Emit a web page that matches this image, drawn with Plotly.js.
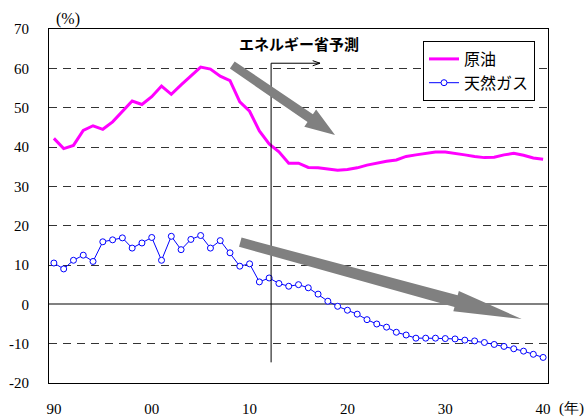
<!DOCTYPE html>
<html>
<head>
<meta charset="utf-8">
<script src="https://cdn.plot.ly/plotly-3.0.1.min.js"></script>
<style>
  html, body { margin: 0; padding: 0; background: #fff; }
  #chart { width: 587px; height: 418px; }
</style>
</head>
<body>
<div id="chart"></div>
<script>
// Years on the category axis (1990-2040)
const years = [
  1990, 1991, 1992, 1993, 1994, 1995, 1996, 1997, 1998, 1999,
  2000, 2001, 2002, 2003, 2004, 2005, 2006, 2007, 2008, 2009,
  2010, 2011, 2012, 2013, 2014, 2015, 2016, 2017, 2018, 2019,
  2020, 2021, 2022, 2023, 2024, 2025, 2026, 2027, 2028, 2029,
  2030, 2031, 2032, 2033, 2034, 2035, 2036, 2037, 2038, 2039, 2040
];

// 原油 (%)
const crudeOil = [
  42.2, 39.6, 40.4, 44.2, 45.4, 44.5, 46.4, 49.1, 51.7, 50.8,
  52.8, 55.5, 53.4, 55.8, 58.0, 60.3, 59.8, 58.0, 56.9, 51.5,
  49.1, 44.1, 40.8, 38.8, 35.9, 35.9, 34.8, 34.7, 34.4, 34.1,
  34.3, 34.7, 35.4, 35.9, 36.4, 36.7, 37.6, 38.0, 38.4, 38.7,
  38.7, 38.4, 38.0, 37.6, 37.3, 37.4, 38.0, 38.4, 37.9, 37.2, 36.9
];

// 天然ガス (%)
const naturalGas = [
  10.5, 9.0, 11.2, 12.5, 10.9, 15.9, 16.4, 16.9, 14.3, 15.6,
  17.0, 11.2, 17.3, 13.9, 16.5, 17.5, 14.3, 16.2, 13.1, 9.7,
  10.3, 5.7, 6.7, 5.3, 4.6, 5.0, 4.2, 2.6, 0.8, -0.5,
  -1.5, -2.5, -3.9, -5.0, -5.8, -7.1, -7.8, -8.6, -8.6, -8.6,
  -8.7, -8.8, -9.1, -9.3, -9.7, -10.2, -10.7, -11.3, -11.9, -12.7, -13.5
];

// Axis ticks
const xTickYears = [1990, 2000, 2010, 2020, 2030, 2040];
const xTickLabels = ['90', '00', '10', '20', '30', '40'];
const yTickVals = [-20, -10, 0, 10, 20, 30, 40, 50, 60, 70];
const yTickLabels = ['-20', '-10', '0', '10', '20', '30', '40', '50', '60', '70'];

// Forecast start marker and trend arrows (data coordinates)
const forecastYear = 2012.2;
const forecastTop = 61.3;
const forecastBottom = -14.75;
const forecastArrowEnd = 2017.2;
const trendOil = { tail: [2008.23, 60.85], tip: [2018.73, 43.05] };
const trendGas = { tail: [2009.05, 15.8], tip: [2037.81, -3.73] };

// Plot geometry
const W = 587, H = 418;
const M = { l: 49, r: 39, t: 29, b: 35 };
const xRange = [1989.5, 2040.5];
const yRange = [-20, 70];
const plotW = W - M.l - M.r, plotH = H - M.t - M.b;
const sx = plotW / (xRange[1] - xRange[0]);
const sy = plotH / (yRange[1] - yRange[0]);

// Block arrow polygon, sized in pixels, expressed in data coordinates
function blockArrow(a, wTail, wBase, headLen, headW) {
  const toPx = p => [(p[0] - xRange[0]) * sx, (yRange[1] - p[1]) * sy];
  const toData = q => [q[0] / sx + xRange[0], yRange[1] - q[1] / sy];
  const t = toPx(a.tail), h = toPx(a.tip);
  const dx = h[0] - t[0], dy = h[1] - t[1];
  const len = Math.hypot(dx, dy);
  const u = [dx / len, dy / len], n = [-u[1], u[0]];
  const base = [h[0] - u[0] * headLen, h[1] - u[1] * headLen];
  const off = (p, k) => [p[0] + n[0] * k, p[1] + n[1] * k];
  const pts = [
    off(t, wTail / 2), off(base, wBase / 2), off(base, headW / 2), h,
    off(base, -headW / 2), off(base, -wBase / 2), off(t, -wTail / 2)
  ].map(toData);
  return 'M' + pts.map(p => p[0].toFixed(3) + ',' + p[1].toFixed(3)).join(' L') + ' Z';
}

const serif = 'Liberation Serif';
const cjk = 'Noto Sans CJK JP';

const traces = [
  {
    x: years, y: crudeOil, name: '原油', type: 'scatter', mode: 'lines',
    line: { color: '#FF00FF', width: 3 }, xaxis: 'x', yaxis: 'y'
  },
  {
    x: years, y: naturalGas, name: '天然ガス', type: 'scatter', mode: 'lines+markers',
    line: { color: '#0000FF', width: 1 },
    marker: { symbol: 'circle', size: 6, color: '#FFFFFF', line: { color: '#0000FF', width: 1 } },
    xaxis: 'x', yaxis: 'y'
  }
];

const layout = {
  width: W, height: H,
  margin: M,
  font: { family: serif },
  paper_bgcolor: '#FFFFFF', plot_bgcolor: '#FFFFFF',
  showlegend: true,
  legend: {
    x: (535 - M.l) / plotW, xanchor: 'right',
    y: (H - M.b - 41) / plotH, yanchor: 'top',
    bgcolor: '#FFFFFF', bordercolor: '#000000', borderwidth: 1,
    font: { family: cjk, size: 16, color: '#000000' },
    itemwidth: 30, tracegroupgap: 0
  },
  xaxis: {
    range: xRange, tickvals: xTickYears, ticktext: xTickLabels,
    ticks: '', showgrid: false, zeroline: false,
    showline: true, mirror: true, linecolor: '#000000', linewidth: 1,
    ticklabelstandoff: 12,
    tickfont: { family: serif, size: 15, color: '#000000' }
  },
  // tick marks along the zero line at decade boundaries
  xaxis2: {
    overlaying: 'x', anchor: 'free', position: (0 - yRange[0]) / (yRange[1] - yRange[0]),
    range: xRange, tickvals: [1999.5, 2009.5, 2019.5, 2029.5, 2039.5],
    ticks: 'inside', ticklen: 5, tickwidth: 1, tickcolor: '#000000',
    showticklabels: false, showgrid: false, zeroline: false, showline: false
  },
  yaxis: {
    range: yRange, tickvals: yTickVals, ticktext: yTickLabels,
    ticks: '', showgrid: true, gridcolor: '#333333', gridwidth: 1, griddash: '8px,6px',
    zeroline: true, zerolinecolor: '#808080', zerolinewidth: 2,
    showline: true, mirror: true, linecolor: '#000000', linewidth: 1,
    ticklabelstandoff: 16,
    tickfont: { family: serif, size: 15, color: '#000000' }
  },
  shapes: [
    { type: 'line', xref: 'x', yref: 'y', x0: forecastYear, x1: forecastYear,
      y0: forecastBottom, y1: forecastTop, line: { color: '#000000', width: 1 } },
    { type: 'line', xref: 'x', yref: 'y', x0: forecastYear, x1: forecastArrowEnd,
      y0: forecastTop, y1: forecastTop, line: { color: '#000000', width: 1 } },
    { type: 'path', xref: 'x', yref: 'y',
      path: 'M' + (forecastArrowEnd - 0.75) + ',' + (forecastTop + 0.65) +
            ' L' + forecastArrowEnd + ',' + forecastTop +
            ' L' + (forecastArrowEnd - 0.75) + ',' + (forecastTop - 0.65),
      line: { color: '#000000', width: 1 } },
    { type: 'path', xref: 'x', yref: 'y', path: blockArrow(trendOil, 8.5, 9.5, 30, 21),
      fillcolor: '#808080', line: { width: 0 } },
    { type: 'path', xref: 'x', yref: 'y', path: blockArrow(trendGas, 9.5, 12, 68, 21),
      fillcolor: '#808080', line: { width: 0 } }
  ],
  annotations: [
    { xref: 'paper', yref: 'paper', x: (68 - M.l) / plotW, y: (H - M.b - 19) / plotH,
      text: '(%)', showarrow: false, xanchor: 'center', yanchor: 'middle',
      font: { family: serif, size: 16, color: '#000000' } },
    { xref: 'paper', yref: 'paper', x: (557 - M.l) / plotW, y: (H - M.b - 408) / plotH,
      text: '(年)', showarrow: false, xanchor: 'left', yanchor: 'middle',
      font: { family: serif, size: 15, color: '#000000' } },
    { xref: 'x', yref: 'y', x: 2015.1, y: 66.2,
      text: '<b>エネルギー省予測</b>', showarrow: false, xanchor: 'center', yanchor: 'middle',
      font: { family: cjk, size: 15, color: '#000000' } }
  ]
};

Plotly.newPlot('chart', traces, layout, { staticPlot: true, displayModeBar: false });
</script>
</body>
</html>
